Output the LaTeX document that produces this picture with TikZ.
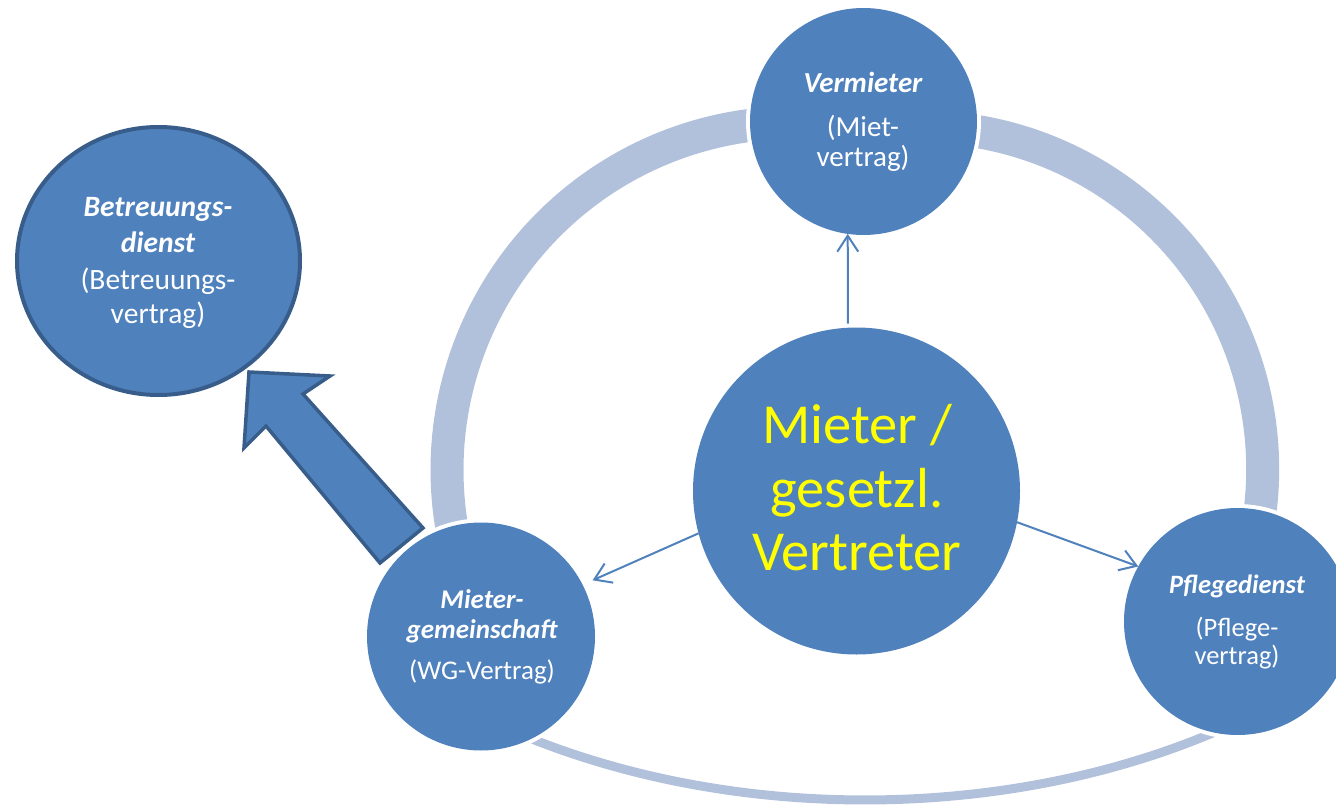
\documentclass[tikz,border=0pt]{standalone}
\usepackage{fontspec}
\setmainfont{Carlito}
\usetikzlibrary{arrows.meta,shapes.geometric}
\definecolor{nodeblue}{HTML}{4F81BD}
\definecolor{ringblue}{HTML}{B2C1DB}
\definecolor{darkedge}{HTML}{385D8A}
\definecolor{txtyellow}{HTML}{FFFF00}
\begin{document}
\begin{tikzpicture}[x=1pt,y=-1pt,
  ringarc/.style={draw=ringblue, line width=33pt, line cap=butt},
  ringthin/.style={draw=ringblue, line width=9pt, line cap=butt},
  disc/.style={circle, fill=nodeblue, inner sep=0pt, outer sep=0pt,
    minimum size=#1, preaction={draw=white, line width=8pt}},
  bigdisc/.style={ellipse, fill=nodeblue, draw=darkedge, line width=4pt,
    inner sep=0pt, outer sep=0pt, minimum width=283pt, minimum height=268pt},
  blockarrow/.style={fill=nodeblue, draw=darkedge, line width=3.5pt, line join=miter},
  thinarrow/.style={draw=nodeblue, line width=2pt,
    -{Straight Barb[length=16pt, width=21pt]}},
  ttl/.style={font=\fontsize{#1}{#1}\selectfont\bfseries\itshape, text=white,
    inner sep=0pt, anchor=base},
  sub/.style={font=\fontsize{#1}{#1}\selectfont, text=white,
    inner sep=0pt, anchor=base},
  ctr/.style={font=\fontsize{56.5}{64}\selectfont, text=txtyellow,
    inner sep=0pt, anchor=base}
]
\useasboundingbox (0,0) rectangle (1336,805);

% ring segments
\draw[ringarc] plot[domain=164:270.7, samples=80, smooth] ({794.5+347.5*cos(\x)}, {470+347.5*sin(\x)});
\draw[ringarc] plot[domain=272.5:372.8, samples=80, smooth] ({920.2+342.5*cos(\x)}, {469.2+342.5*sin(\x)});
\draw[ringthin] plot[domain=57:124, samples=80, smooth] ({865+650*cos(\x)}, {368+432*sin(\x)});

% circles
\node[disc=227pt] (v) at (863.5,121.5) {};
\node[disc=327pt] (c) at (856.5,491) {};
\node[disc=228pt] (mg) at (481,636.5) {};
\node[disc=227pt] (pf) at (1237.5,621.5) {};
\node[bigdisc] (b) at (158.5,261) {};

% block arrow
\draw[blockarrow] (249,372) -- (330,376) -- (303,394) -- (423,528) -- (380,563) -- (266,426) -- (244,448) -- cycle;

% thin arrows
\draw[thinarrow, shorten <=4pt] (c.93) -- (v.262);
\draw[thinarrow, shorten >=11pt] (c.195) -- (mg.27);
\draw[thinarrow] (c.-11) -- (pf.151);

% texts
\node[ttl=29] (vt1) at (863,93) {Vermieter};
\node[sub=29] (vt2) at (863,137) {(Miet-};
\node[sub=29] (vt3) at (863,167) {vertrag)};

\node[ttl=27] (mt1) at (482,608) {Mieter-};
\node[ttl=27] (mt2) at (482,638) {gemeinschaft};
\node[sub=27] (mt3) at (482,679) {(WG-Vertrag)};

\node[ttl=26.5] (pt1) at (1237,593) {Pflegedienst};
\node[sub=26.5] (pt2) at (1237,636) {(Pflege-};
\node[sub=26.5] (pt3) at (1237,664) {vertrag)};

\node[ttl=29.5] (bt1) at (158,217) {Betreuungs-};
\node[ttl=29.5] (bt2) at (158,253) {dienst};
\node[sub=29.5] (bt3) at (158,289) {(Betreuungs-};
\node[sub=29.5] (bt4) at (158,323) {vertrag)};

\node[ctr] (ct1) at (857,443) {Mieter /};
\node[ctr] (ct2) at (857,507) {gesetzl.};
\node[ctr] (ct3) at (857,570) {Vertreter};
\end{tikzpicture}
\end{document}
